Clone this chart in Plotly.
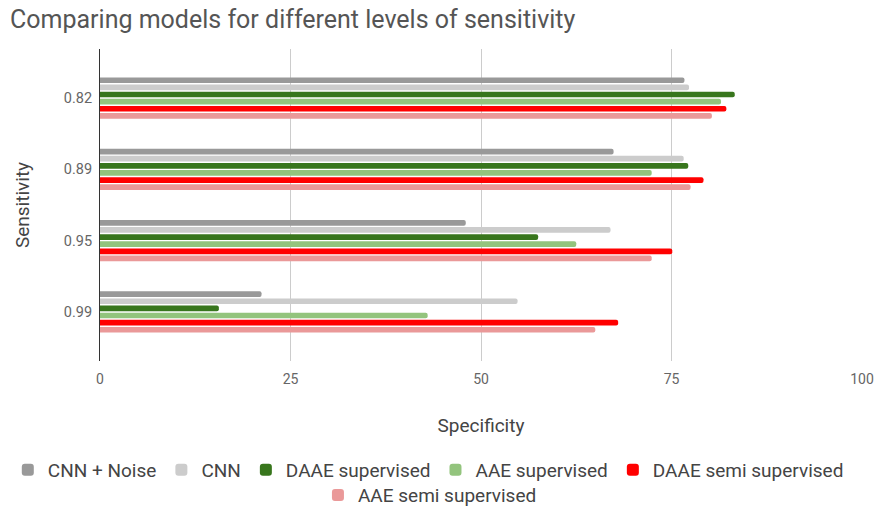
import plotly.graph_objects as go

sensitivity = ["0.82", "0.89", "0.95", "0.99"]
series_names = ["CNN + Noise", "CNN", "DAAE supervised", "AAE supervised",
                "DAAE semi supervised", "AAE semi supervised"]
cnn_noise = [76.7, 67.4, 48.0, 21.2]
cnn = [77.3, 76.6, 67.0, 54.8]
daae_sup = [83.3, 77.2, 57.5, 15.6]
aae_sup = [81.5, 72.4, 62.5, 43.0]
daae_semi = [82.2, 79.2, 75.1, 68.0]
aae_semi = [80.3, 77.5, 72.4, 65.0]
colors = ["#999999", "#cccccc", "#38761d", "#93c47d", "#ff0000", "#ea9999"]
x_ticks = [0, 25, 50, 75, 100]

values = [cnn_noise, cnn, daae_sup, aae_sup, daae_semi, aae_semi]

fig = go.Figure()
for i, (name, vals, col) in enumerate(zip(series_names, values, colors)):
    fig.add_trace(go.Bar(
        y=sensitivity, x=vals, name=name, orientation="h",
        marker=dict(color=col, line=dict(width=0), cornerradius=3),
        legend="legend" if i < 5 else "legend2",
    ))

font_family = "Roboto, Arial, sans-serif"
fig.update_layout(
    width=878, height=507,
    margin=dict(l=100, r=16, t=49, b=146, autoexpand=False),
    paper_bgcolor="white", plot_bgcolor="white",
    barmode="group", bargap=0.4, bargroupgap=0.2,
    font=dict(family=font_family, color="#555555"),
    title=dict(text="Comparing models for different levels of sensitivity",
               x=0.0114, xanchor="left", y=0.963, yanchor="middle",
               font=dict(size=25, color="#555555", family=font_family)),
    legend=dict(orientation="h", x=-0.121, xanchor="left", y=-0.349, yanchor="middle",
                font=dict(size=19, color="#444444"), traceorder="normal",
                bgcolor="rgba(0,0,0,0)"),
    legend2=dict(orientation="h", x=0.433, xanchor="center", y=-0.43, yanchor="middle",
                 font=dict(size=19, color="#444444"), bgcolor="rgba(0,0,0,0)"),
    showlegend=True,
)
fig.update_xaxes(
    range=[0, 100], tickvals=x_ticks, ticktext=[str(t) for t in x_ticks],
    showgrid=True, gridcolor="#cccccc", gridwidth=1, zeroline=False,
    tickfont=dict(size=14, color="#666666"), ticklabelstandoff=8, automargin=False,
    title=dict(text="Specificity", font=dict(size=19, color="#444444"), standoff=32),
)
fig.update_yaxes(
    type="category", range=[3.688, -0.688], showgrid=False, zeroline=False,
    showline=True, linecolor="#333333", linewidth=1, automargin=False,
    tickfont=dict(size=14.5, color="#666666"), ticklabelstandoff=4,
    title=dict(text="Sensitivity", font=dict(size=19, color="#444444"), standoff=29),
)

fig.write_html(
    "out.html",
    config={"displayModeBar": False},
    post_script="document.body.style.margin='0';document.body.style.overflow='hidden';",
)
